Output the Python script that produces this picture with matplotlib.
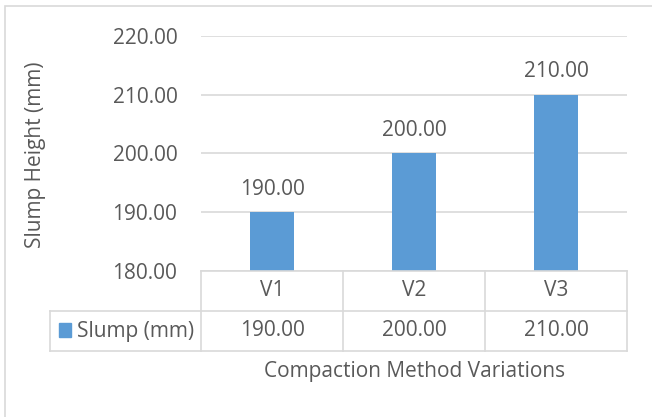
import matplotlib.pyplot as plt
from matplotlib.patches import Rectangle
from matplotlib.lines import Line2D
from matplotlib.transforms import blended_transform_factory
import numpy as np

# donnees
categories = ["V1", "V2", "V3"]
slump = [190.00, 200.00, 210.00]
serie = "Slump (mm)"
yticks = [180, 190, 200, 210, 220]

W, H = 652, 417
bleu = "#5B9BD5"
gris_txt = "#595959"
gris_ligne = "#D9D9D9"
fs = 15

plt.rcParams['font.family'] = ['Open Sans', 'DejaVu Sans']

fig = plt.figure(figsize=(W / 100, H / 100), dpi=100)

def fx(px):  # pixels -> fraction figure
    return px / W

def fy(py):
    return 1 - py / H

# cadre du graphique
fig.patches.append(Rectangle((fx(5), fy(440)), fx(700), fy(6) - fy(440),
                             transform=fig.transFigure, fill=False,
                             edgecolor=gris_ligne, linewidth=1.2))

ax = fig.add_axes([fx(201), fy(271), fx(627) - fx(201), fy(36) - fy(271)])
x = np.arange(len(categories))
bars = ax.bar(x, slump, width=0.31, color=bleu, zorder=3)
ax.set_xlim(-0.5, len(categories) - 0.5)
ax.set_ylim(180, 220)
ax.set_yticks(yticks)
ax.set_yticklabels(["%.2f" % v for v in yticks], fontsize=fs, color=gris_txt)
ax.yaxis.grid(True, color=gris_ligne, linewidth=1.2, zorder=0)
ax.tick_params(axis='y', length=0, pad=17)
ax.set_xticks([])
for s in ax.spines.values():
    s.set_visible(False)

for b, v in zip(bars, slump):
    ax.annotate("%.2f" % v, (b.get_x() + b.get_width() / 2, v),
                xytext=(0, 9), textcoords="offset points",
                ha="center", va="bottom", fontsize=fs, color=gris_txt)

fig.text(fx(36), fy(155), "Slump Height (mm)", rotation=90, ha="center", va="center",
         fontsize=fs, color=gris_txt)

# table de donnees sous l'axe
cols = [201, 343, 485, 627]
lignes = [((201, 627), (271, 271)),
          ((50, 627), (311, 311)),
          ((50, 627), (351, 351)),
          ((50, 50), (311, 351))]
for c in cols:
    lignes.append(((c, c), (271, 351)))
for xs, ys in lignes:
    fig.lines.append(Line2D([fx(xs[0]), fx(xs[1])], [fy(ys[0]), fy(ys[1])],
                            transform=fig.transFigure, color=gris_ligne,
                            linewidth=1.2))

tr = blended_transform_factory(ax.transData, fig.transFigure)
for i, (cat, v) in enumerate(zip(categories, slump)):
    ax.text(i, fy(291), cat, transform=tr, ha="center", va="center",
            fontsize=fs, color=gris_txt)
    ax.text(i, fy(331), "%.2f" % v, transform=tr, ha="center", va="center",
            fontsize=fs, color=gris_txt)

fig.patches.append(Rectangle((fx(59), fy(337)), fx(12), fy(323) - fy(337),
                             transform=fig.transFigure, color=bleu))
fig.text(fx(77), fy(331), serie, ha="left", va="center", fontsize=fs, color=gris_txt)

fig.text(fx(415), fy(372), "Compaction Method Variations", ha="center", va="center",
         fontsize=fs, color=gris_txt)

fig.savefig("out.png", dpi=100)
